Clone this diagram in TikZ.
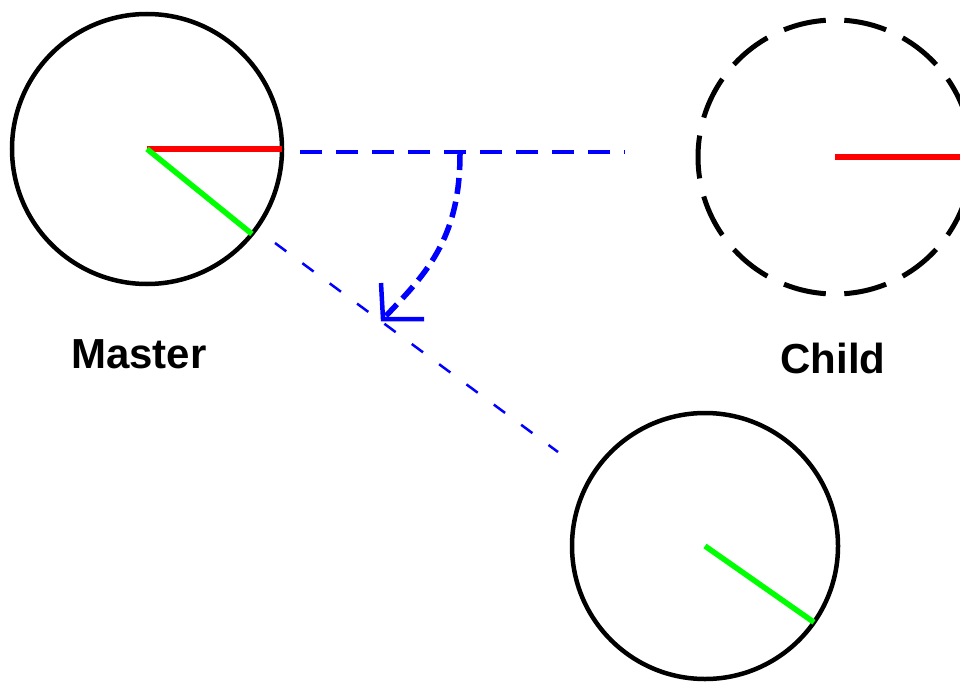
\documentclass[tikz,border=0pt]{standalone}
\usepackage{fontspec}
\setmainfont{Liberation Sans}
\begin{document}
\begin{tikzpicture}[x=1pt,y=-1pt,
  dial/.style={circle, draw=black, line width=4.5pt, inner sep=0pt, outer sep=0pt},
  hand/.style={line width=5.5pt},
  guide/.style={blue, line width=4.5pt, dash pattern=on 22pt off 14pt},
  thinguide/.style={blue, line width=2.5pt, dash pattern=on 14pt off 20pt},
  turn/.style={blue, line width=5.5pt, dash pattern=on 16pt off 8pt},
  lbl/.style={font=\fontsize{42}{48}\selectfont\bfseries}]
\useasboundingbox (0,0) rectangle (960,687);
\fill[white] (0,0) rectangle (960,687);
\node[dial, minimum size=270pt] (master) at (147,149) {};
\node[dial, minimum size=274pt, line width=5pt, dash pattern=on 43pt off 18.5pt, dash phase=21.55pt] (child) at (835,157) {};
\node[dial, minimum size=266pt] (slave) at (705,546) {};
\draw[red, hand] (master.center) -- (master.east);
\draw[green, hand] (master.center) -- (master.-39);
\draw[red, hand] (child.center) -- (child.east);
\draw[green, hand] (slave.center) -- (slave.-35);
\coordinate (h1) at (300,152);
\coordinate (h2) at (625,152);
\draw[guide] (h1) -- (h2);
\coordinate (d1) at (275,243);
\coordinate (d2) at (558,452);
\draw[thinguide] (d1) -- (d2);
\coordinate (a1) at (460,154);
\coordinate (a2) at (383,319);
\draw[turn] (a1) .. controls (460,240) and (425,275) .. (a2);
\draw[blue, line width=4.5pt] (a2) ++(-2,-36) -- (a2) -- ++(41,0);
\node[lbl] (mlabel) at (139,354) {Master};
\node[lbl] (clabel) at (833,358) {Child};
\end{tikzpicture}
\end{document}
